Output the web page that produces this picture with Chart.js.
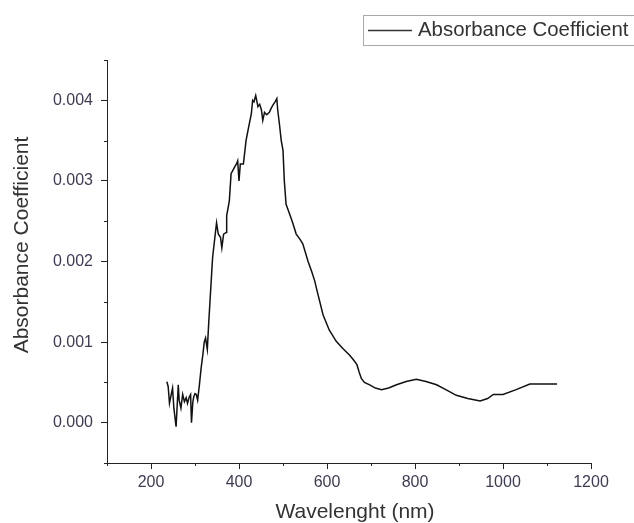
<!DOCTYPE html>
<html>
<head>
<meta charset="utf-8">
<script src="https://cdn.jsdelivr.net/npm/chart.js@4.4.1/dist/chart.umd.min.js"></script>
<style>
  body { margin: 0; background: #fff; }
</style>
</head>
<body>
<canvas id="myChart" width="634" height="523"></canvas>
<script>
// wavelength (nm)
var wavelengths = [
    236, 239, 242, 246, 249, 252, 257, 262, 264, 268, 272, 276, 280, 283, 287, 290, 292, 295, 297, 300, 303, 306, 310, 314, 318, 321,
    324, 328, 331, 334, 340, 346, 349, 353, 358, 361, 365, 371, 372, 378, 382, 386, 390, 395, 397, 400, 403, 410, 416, 422,
    428, 431, 434, 438, 443, 447, 451, 454, 458, 463, 469, 473, 477, 482, 486, 488, 492, 496, 500, 503, 507, 515, 522, 530,
    538, 545, 557, 565, 572, 580, 591, 605, 621, 636, 651, 660, 668, 673, 678, 685, 697, 710, 724, 740, 758, 780, 803, 825,
    849, 870, 894, 920, 948, 965, 978, 1000, 1030, 1061, 1090, 1123
];
var absorbance = [
    0.00051, 0.00045, 0.00024, 0.00035, 0.00043, 0.00018, -0.00005, 0.00047, 0.00028, 0.00018, 0.00035, 0.00026, 0.00031, 0.00024, 0.00032, 0.00035, 0.0, 0.00025, 0.00032, 0.00036, 0.00035, 0.00028, 0.00047, 0.00068, 0.00085, 0.001,
    0.00105, 0.00091, 0.00122, 0.0015, 0.00205, 0.00234, 0.00248, 0.00234, 0.0023, 0.00217, 0.00234, 0.00236, 0.00257, 0.00275, 0.00309, 0.00313, 0.00317, 0.00322, 0.00325, 0.003, 0.00321, 0.00321, 0.0035, 0.00367,
    0.00383, 0.004, 0.00398, 0.00406, 0.00392, 0.00395, 0.00388, 0.00375, 0.00385, 0.00382, 0.00385, 0.0039, 0.00394, 0.00398, 0.00402, 0.00388, 0.0037, 0.0035, 0.00338, 0.003, 0.00271, 0.00259, 0.00248, 0.00234,
    0.00228, 0.00222, 0.002, 0.00188, 0.00176, 0.00158, 0.00134, 0.00115, 0.00101, 0.00092, 0.00084, 0.00078, 0.00072, 0.00063, 0.00055, 0.0005, 0.00047, 0.00043, 0.00041, 0.00043, 0.00047, 0.00051, 0.00054, 0.00051,
    0.00047, 0.00041, 0.00034, 0.0003, 0.00027, 0.0003, 0.00035, 0.00035, 0.00041, 0.00048, 0.00048, 0.00048
];
var xMajorTicks = [200, 400, 600, 800, 1000, 1200];
var xMinorTicks = [100, 300, 500, 700, 900, 1100];
var yMajorTicks = [0, 0.001, 0.002, 0.003, 0.004];
var yMinorTicks = [-0.0005, 0.0005, 0.0015, 0.0025, 0.0035, 0.0045];
var xTitle = "Wavelenght (nm)";
var yTitle = "Absorbance Coefficient";

var points = [];
for (var i = 0; i < wavelengths.length; i++) {
    points.push({ x: wavelengths[i], y: absorbance[i] });
}

var axisColor = "#222";
var labelColor = "#3c3c55";
var titleFont = "21px 'Liberation Sans'";

// short minor ticks, axis titles and the boxed legend, Origin style
var extras = {
    id: "extras",
    afterDraw: function (chart) {
        var ctx = chart.ctx;
        var xs = chart.scales.x, ys = chart.scales.y;
        var area = chart.chartArea;
        ctx.save();
        ctx.strokeStyle = axisColor;
        ctx.lineWidth = 1;
        ctx.beginPath();
        xMinorTicks.forEach(function (v) {
            var px = Math.round(xs.getPixelForValue(v)) + 0.5;
            ctx.moveTo(px, area.bottom);
            ctx.lineTo(px, area.bottom + 3);
        });
        yMinorTicks.forEach(function (v) {
            var py = Math.round(ys.getPixelForValue(v)) + 0.5;
            ctx.moveTo(area.left, py);
            ctx.lineTo(area.left - 3, py);
        });
        ctx.stroke();

        // axis titles
        ctx.fillStyle = "#333";
        ctx.font = titleFont;
        ctx.textAlign = "center";
        ctx.textBaseline = "middle";
        ctx.fillText(xTitle, 355, 512);
        ctx.save();
        ctx.translate(22, 245);
        ctx.rotate(-Math.PI / 2);
        ctx.fillText(yTitle, 0, 0);
        ctx.restore();

        // legend
        ctx.strokeStyle = "#aaa";
        ctx.lineWidth = 1;
        ctx.strokeRect(363.5, 15.5, 280, 30);
        ctx.strokeStyle = "#333";
        ctx.lineWidth = 1.5;
        ctx.beginPath();
        ctx.moveTo(368, 30.5);
        ctx.lineTo(412, 30.5);
        ctx.stroke();
        ctx.textAlign = "left";
        ctx.font = "20.4px 'Liberation Sans'";
        ctx.fillText(chart.data.datasets[0].label, 418, 30);
        ctx.restore();
    }
};

var myChart = new Chart(document.getElementById("myChart").getContext("2d"), {
    type: "line",
    data: {
        datasets: [{
            label: "Absorbance Coefficient",
            data: points,
            borderColor: "#111",
            borderWidth: 1.5,
            pointRadius: 0,
            tension: 0,
            fill: false
        }]
    },
    options: {
        responsive: false,
        animation: false,
        devicePixelRatio: 1,
        layout: { padding: { left: 0, top: 60, right: 43, bottom: 0 } },
        plugins: {
            legend: { display: false },
            tooltip: { enabled: false }
        },
        scales: {
            x: {
                type: "linear",
                min: 100,
                max: 1200,
                afterBuildTicks: function (scale) {
                    scale.ticks = xMajorTicks.map(function (v) { return { value: v }; });
                },
                afterFit: function (scale) { scale.height = 60; },
                grid: { drawOnChartArea: false, tickLength: 6, color: axisColor },
                border: { color: axisColor, width: 1 },
                ticks: {
                    padding: 4,
                    color: labelColor,
                    font: { family: "'Liberation Sans'", size: 16 },
                    maxRotation: 0,
                    callback: function (v) { return String(v); }
                }
            },
            y: {
                min: -0.0005,
                max: 0.0045,
                afterBuildTicks: function (scale) {
                    scale.ticks = yMajorTicks.map(function (v) { return { value: v }; });
                },
                afterFit: function (scale) { scale.width = 107; },
                grid: { drawOnChartArea: false, tickLength: 6, color: axisColor },
                border: { color: axisColor, width: 1 },
                ticks: {
                    padding: 8,
                    color: labelColor,
                    font: { family: "'Liberation Sans'", size: 16 },
                    callback: function (v) { return v.toFixed(3); }
                }
            }
        }
    },
    plugins: [extras]
});
</script>
</body>
</html>
